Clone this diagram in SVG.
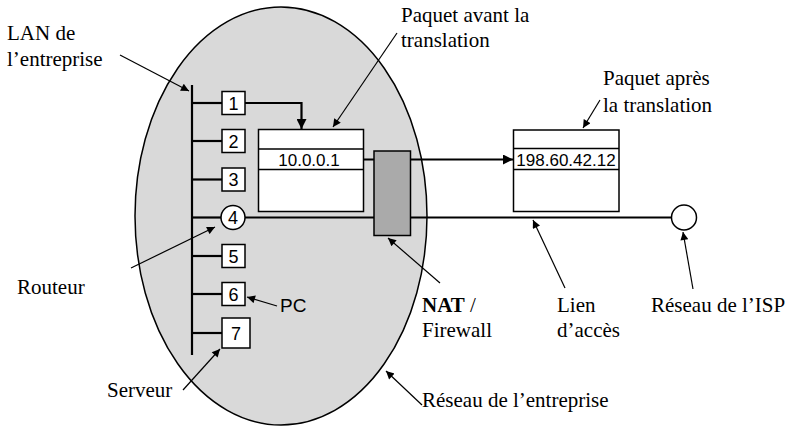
<svg xmlns="http://www.w3.org/2000/svg" width="792" height="427" viewBox="0 0 792 427">
  <style>
    .serif { font-family: "Liberation Serif", "Times New Roman", serif; font-size: 21px; fill: #000; }
    .sans { font-family: "Liberation Sans", Arial, sans-serif; fill: #000; }
    .node { fill: #fff; stroke: #000; stroke-width: 1.5; }
    .wire { fill: none; stroke: #000; stroke-width: 2.2; }
    .pointer { fill: none; stroke: #000; stroke-width: 1.2; }
  </style>
  <defs>
    <marker id="head" viewBox="0 0 10 10" refX="10" refY="5" markerWidth="10" markerHeight="8" markerUnits="userSpaceOnUse" orient="auto">
      <path d="M0,0 L10,5 L0,10 z" fill="#000"/>
    </marker>
    <marker id="headBig" viewBox="0 0 10 10" refX="10" refY="5" markerWidth="14" markerHeight="10" markerUnits="userSpaceOnUse" orient="auto">
      <path d="M0,0 L10,5 L0,10 z" fill="#000"/>
    </marker>
  </defs>

  <rect width="792" height="427" fill="#fff"/>

  <!-- enterprise network area -->
  <g id="enterprise-network">
    <ellipse cx="281" cy="216" rx="146" ry="209" fill="#d9d9d9" stroke="#000" stroke-width="1.5"/>
  </g>

  <!-- LAN bus -->
  <g id="lan-bus">
    <line x1="192" y1="85" x2="192" y2="355" stroke="#000" stroke-width="2.2"/>
  </g>

  <!-- wiring and pointer arrows -->
  <g id="connectors">
    <line class="wire" x1="192" y1="103" x2="222" y2="103"/>
    <line class="wire" x1="192" y1="141" x2="222" y2="141"/>
    <line class="wire" x1="192" y1="179.5" x2="222" y2="179.5"/>
    <line class="wire" x1="192" y1="217.5" x2="221" y2="217.5"/>
    <line class="wire" x1="192" y1="256" x2="222" y2="256"/>
    <line class="wire" x1="192" y1="294" x2="222" y2="294"/>
    <line class="wire" x1="192" y1="333" x2="222" y2="333"/>
    <!-- host 1 to packet -->
    <polyline class="wire" points="245,103 301.5,103 301.5,129" marker-end="url(#headBig)"/>
    <!-- translated address flow -->
    <line class="wire" x1="364" y1="159.5" x2="513" y2="159.5" marker-end="url(#headBig)"/>
    <!-- access link -->
    <line class="wire" x1="245" y1="217.5" x2="671.5" y2="217.5"/>
    <!-- label pointers -->
    <line class="pointer" x1="120" y1="55" x2="189" y2="91" marker-end="url(#head)"/>
    <line class="pointer" x1="397" y1="33" x2="333" y2="127" marker-end="url(#head)"/>
    <line class="pointer" x1="600" y1="100" x2="583" y2="128" marker-end="url(#head)"/>
    <line class="pointer" x1="131" y1="268" x2="215" y2="227" marker-end="url(#head)"/>
    <line class="pointer" x1="277" y1="306" x2="247" y2="297" marker-end="url(#head)"/>
    <line class="pointer" x1="183" y1="390" x2="220" y2="349" marker-end="url(#head)"/>
    <line class="pointer" x1="440" y1="283" x2="388" y2="238" marker-end="url(#head)"/>
    <line class="pointer" x1="565" y1="288" x2="533" y2="220" marker-end="url(#head)"/>
    <line class="pointer" x1="693" y1="289" x2="683" y2="232" marker-end="url(#head)"/>
    <line class="pointer" x1="422" y1="405" x2="386" y2="371" marker-end="url(#head)"/>
  </g>

  <!-- hosts -->
  <g id="host-1">
    <rect class="node" x="222" y="91.5" width="23" height="23"/>
    <text class="sans" x="233.5" y="109.5" font-size="18" text-anchor="middle">1</text>
  </g>
  <g id="host-2">
    <rect class="node" x="222" y="129.5" width="23" height="23"/>
    <text class="sans" x="233.5" y="147.5" font-size="18" text-anchor="middle">2</text>
  </g>
  <g id="host-3">
    <rect class="node" x="222" y="168" width="23" height="23"/>
    <text class="sans" x="233.5" y="186" font-size="18" text-anchor="middle">3</text>
  </g>
  <g id="router">
    <circle class="node" cx="233" cy="217.5" r="12"/>
    <text class="sans" x="233" y="223.5" font-size="18" text-anchor="middle">4</text>
  </g>
  <g id="host-5">
    <rect class="node" x="222" y="244.5" width="23" height="23"/>
    <text class="sans" x="233.5" y="262.5" font-size="18" text-anchor="middle">5</text>
  </g>
  <g id="pc">
    <rect class="node" x="222" y="282.5" width="23" height="23"/>
    <text class="sans" x="233.5" y="300.5" font-size="18" text-anchor="middle">6</text>
  </g>
  <g id="server">
    <rect class="node" x="222" y="318" width="28" height="30"/>
    <text class="sans" x="236" y="339.5" font-size="18" text-anchor="middle">7</text>
  </g>

  <!-- packet before translation -->
  <g id="packet-before">
    <rect class="node" x="258.5" y="129.5" width="105" height="82"/>
    <line x1="258.5" y1="149" x2="363.5" y2="149" stroke="#000" stroke-width="1.5"/>
    <line x1="258.5" y1="169.5" x2="363.5" y2="169.5" stroke="#000" stroke-width="1.5"/>
    <text class="sans" x="309" y="165.5" font-size="17" text-anchor="middle">10.0.0.1</text>
  </g>

  <!-- NAT / firewall -->
  <g id="nat-firewall">
    <rect x="374" y="151" width="36.5" height="84.5" fill="#aaaaaa" stroke="#000" stroke-width="1.5"/>
  </g>

  <!-- packet after translation -->
  <g id="packet-after">
    <rect class="node" x="513.5" y="130" width="105.5" height="81.5"/>
    <line x1="513.5" y1="148.5" x2="619" y2="148.5" stroke="#000" stroke-width="1.5"/>
    <line x1="513.5" y1="169.5" x2="619" y2="169.5" stroke="#000" stroke-width="1.5"/>
    <text class="sans" x="566" y="165.5" font-size="17" text-anchor="middle">198.60.42.12</text>
  </g>

  <!-- ISP network -->
  <g id="isp-network">
    <circle class="node" cx="684" cy="217.5" r="12.5"/>
  </g>

  <!-- labels -->
  <g id="labels">
    <text class="serif" x="7" y="40">LAN de</text>
    <text class="serif" x="7" y="66">l’entreprise</text>
    <text class="serif" x="401" y="22">Paquet avant la</text>
    <text class="serif" x="401" y="47">translation</text>
    <text class="serif" x="603" y="85">Paquet après</text>
    <text class="serif" x="603" y="112">la translation</text>
    <text class="serif" x="17" y="294">Routeur</text>
    <text class="sans" x="280" y="312" font-size="19">PC</text>
    <text class="serif" x="107" y="397">Serveur</text>
    <text class="serif" x="422" y="312"><tspan font-weight="bold">NAT</tspan> /</text>
    <text class="serif" x="422" y="337">Firewall</text>
    <text class="serif" x="557" y="312">Lien</text>
    <text class="serif" x="557" y="337">d’accès</text>
    <text class="serif" x="651" y="312">Réseau de l’ISP</text>
    <text class="serif" x="422" y="407">Réseau de l’entreprise</text>
  </g>
</svg>
